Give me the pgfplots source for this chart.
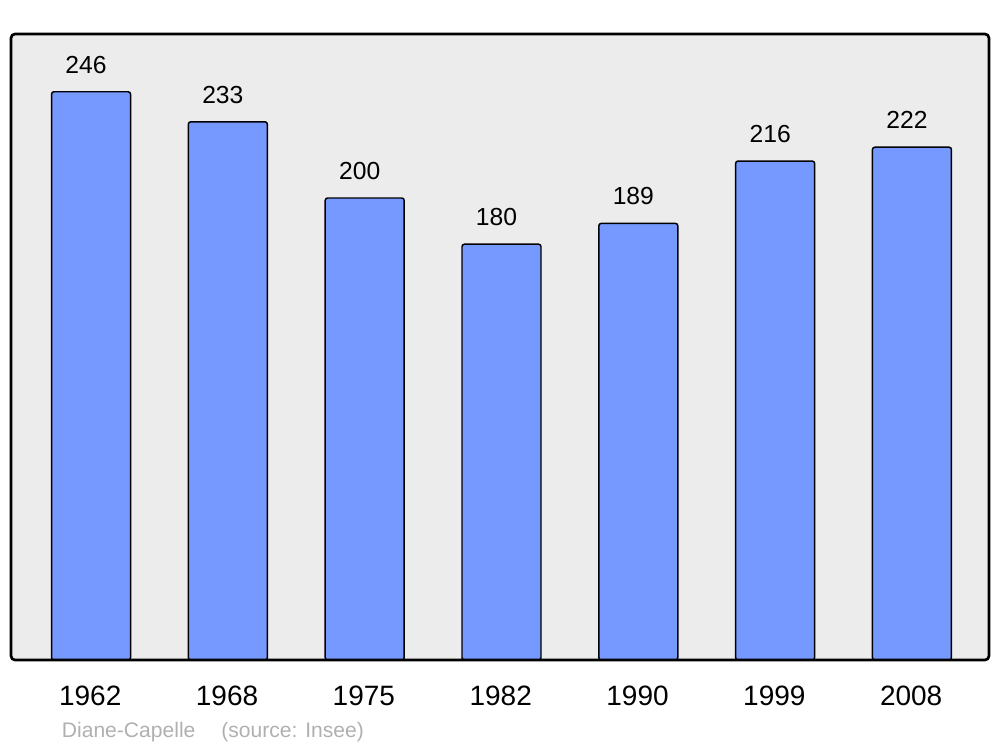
\documentclass[border=0pt]{standalone}
\usepackage{fontspec}
\setmainfont{Liberation Sans}
\usepackage{pgfplots}
\pgfplotsset{compat=1.18}
\definecolor{barblue}{RGB}{117,153,255}
\definecolor{bggrey}{RGB}{236,236,236}
\definecolor{srcgrey}{RGB}{176,176,176}
\begin{document}
\begin{tikzpicture}
\path[use as bounding box] (-8.25pt,-65.25pt) rectangle (741.75pt,495pt);
\begin{axis}[
  at={(0,0)}, anchor=south west,
  width=733.5pt, height=469.5pt, scale only axis,
  xmin=-0.585, xmax=6.563, ymin=0, ymax=271,
  /pgf/number format/assume math mode=true,
  axis line style={draw=none},
  axis background/.style={fill=bggrey},
  xtick=data,
  xticklabels={1962,1968,1975,1982,1990,1999,2008},
  ytick=\empty,
  major tick length=0pt,
  xticklabel style={anchor=base, yshift=-34pt, xshift=-0.6pt, inner sep=0pt, font=\fontsize{21}{24}\selectfont},
  ybar, bar width=59.25pt,
  nodes near coords,
  every node near coord/.append style={anchor=base, yshift=13.9pt, xshift=-3.75pt, inner sep=0pt, font=\fontsize{18.5}{21}\selectfont, text=black},
  clip=false,
]
\addplot[fill=barblue, draw=black, line width=1.1pt, rounded corners=1.8pt] coordinates {
  (0,246) (1,233) (2,200) (3,180) (4,189) (5,216) (6,222)
};
\draw[line width=2pt, rounded corners=3pt] (rel axis cs:0,0) rectangle (rel axis cs:1,1);
\node[anchor=base west, inner sep=0pt, text=srcgrey, font=\fontsize{15.8}{18}\selectfont] at ([xshift=38pt, yshift=-57.75pt]rel axis cs:0,0) {Diane-Capelle\hspace{19.5pt}(source: Insee)};
\end{axis}
\end{tikzpicture}
\end{document}
